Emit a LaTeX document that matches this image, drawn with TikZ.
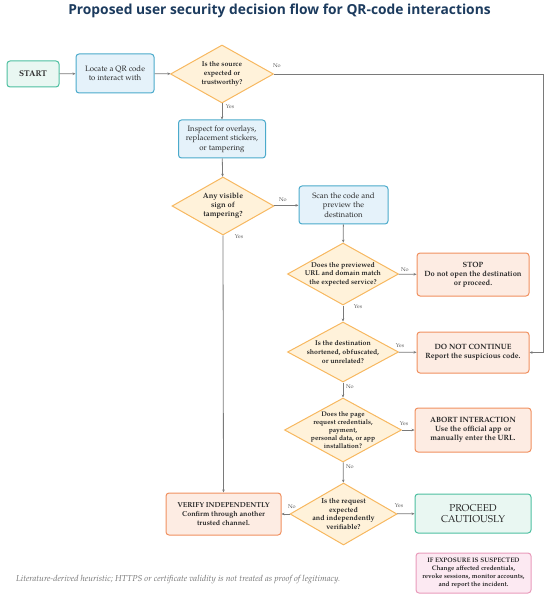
\documentclass[tikz,border=0pt]{standalone}
\usepackage{fontspec}
\setmainfont{TeX Gyre Pagella}
\newfontfamily\titlefont{Open Sans}
\usetikzlibrary{shapes.geometric,arrows.meta}
\definecolor{tealB}{HTML}{4DBFA0}\definecolor{tealF}{HTML}{E9F7F2}
\definecolor{blueB}{HTML}{4BAACB}\definecolor{blueF}{HTML}{E5F2FA}
\definecolor{orgB}{HTML}{F7B860}\definecolor{orgF}{HTML}{FFF2DA}
\definecolor{redB}{HTML}{F0905F}\definecolor{redF}{HTML}{FDECE3}
\definecolor{pinkB}{HTML}{E99BBB}\definecolor{pinkF}{HTML}{FCE9F2}
\definecolor{lineC}{HTML}{7A7A7A}
\definecolor{titleC}{HTML}{1C3B5E}
\definecolor{txtC}{HTML}{2A2A2A}
\tikzset{
  box/.style={draw, rounded corners=3pt, line width=1pt, align=center, inner sep=0pt, text=txtC, font=\fontsize{7.8}{9.3}\selectfont},
  tealbox/.style={box, draw=tealB, fill=tealF},
  bluebox/.style={box, draw=blueB, fill=blueF},
  redbox/.style={box, draw=redB, fill=redF, font=\fontsize{7.6}{9}\selectfont\bfseries},
  pinkbox/.style={box, draw=pinkB, fill=pinkF, font=\fontsize{6.5}{7.9}\selectfont\bfseries},
  dia/.style={draw=orgB, fill=orgF, diamond, line width=1pt, inner sep=0pt, aspect=1.8},
  dtxt/.style={align=center, inner sep=0pt, text=txtC, font=\fontsize{7}{8.6}\selectfont\bfseries},
  lbl/.style={inner sep=0pt, text=black!65, font=\fontsize{5.6}{6}\selectfont},
  arr/.style={draw=lineC, line width=0.8pt, -{Stealth[length=3pt,width=2.6pt]}},
}
\begin{document}
\begin{tikzpicture}[x=1pt,y=-1pt]
\useasboundingbox (0,0) rectangle (550,601);
\node[anchor=base, text=titleC, font=\titlefont\fontsize{13.8}{16}\selectfont\bfseries] (title) at (279.5,15) {Proposed user security decision flow for QR-code interactions};

\node[tealbox, minimum width=52pt, minimum height=26pt, font=\fontsize{8.3}{9}\selectfont\bfseries] (start) at (33,74) {START};
\node[bluebox, minimum width=78pt, minimum height=39pt] (locate) at (115,73.5) {Locate a QR code\\to interact with};
\node[dia, minimum width=103pt, minimum height=58pt] (d1) at (222,74) {};
\node[dtxt] (d1t) at (d1) {Is the source\\expected or\\trustworthy?};
\node[bluebox, minimum width=87pt, minimum height=38pt] (inspect) at (222,139) {Inspect for overlays,\\replacement stickers,\\or tampering};
\node[dia, minimum width=102pt, minimum height=58pt] (d2) at (223,206) {};
\node[dtxt, font=\fontsize{7.6}{9.2}\selectfont\bfseries] (d2t) at (d2) {Any visible\\sign of\\tampering?};
\node[bluebox, minimum width=89pt, minimum height=38pt] (scan) at (343.5,205) {Scan the code and\\preview the\\destination};
\node[dia, minimum width=111pt, minimum height=62pt] (d3) at (343,274) {};
\node[dtxt] (d3t) at (d3) {Does the previewed\\URL and domain match\\the expected service?};
\node[redbox, minimum width=112pt, minimum height=43pt] (stop) at (473,274.5) {STOP\\Do not open the destination\\or proceed.};
\node[dia, minimum width=111pt, minimum height=60pt] (d4) at (343,352) {};
\node[dtxt] (d4t) at (d4) {Is the destination\\shortened, obfuscated,\\or unrelated?};
\node[redbox, minimum width=112pt, minimum height=41pt] (dnc) at (473,352.5) {DO NOT CONTINUE\\Report the suspicious code.};
\node[dia, minimum width=117pt, minimum height=64pt] (d5) at (343,430) {};
\node[dtxt, font=\fontsize{6.7}{8}\selectfont\bfseries] (d5t) at (d5) {Does the page\\request credentials,\\payment,\\personal data, or app\\installation?};
\node[redbox, minimum width=116pt, minimum height=44pt] (abort) at (473,430) {ABORT INTERACTION\\Use the official app or\\manually enter the URL.};
\node[dia, minimum width=107pt, minimum height=62pt] (d6) at (343.5,514) {};
\node[dtxt, font=\fontsize{7.2}{8.6}\selectfont\bfseries] (d6t) at (d6) {Is the request\\expected\\and independently\\verifiable?};
\node[redbox, minimum width=115pt, minimum height=42pt, font=\fontsize{7.2}{8.6}\selectfont\bfseries] (verify) at (223.5,514) {VERIFY INDEPENDENTLY\\Confirm through another\\trusted channel.};
\node[tealbox, minimum width=116pt, minimum height=39pt, font=\fontsize{10}{10.8}\selectfont] (proceed) at (473,513.5) {PROCEED\\CAUTIOUSLY};
\node[pinkbox, minimum width=115pt, minimum height=40pt] (expo) at (473.5,573) {IF EXPOSURE IS SUSPECTED\\Change affected credentials,\\revoke sessions, monitor accounts,\\and report the incident.};
\node[anchor=base west, inner sep=0pt, text=black!55, font=\fontsize{8.6}{9}\selectfont\itshape] (foot) at (16,581) {Literature-derived heuristic; HTTPS or certificate validity is not treated as proof of legitimacy.};

\coordinate (rc) at (543,74);
\draw[arr] (start) -- (locate);
\draw[arr] (locate) -- (d1);
\draw[arr] (d1.east) -- (rc) |- (dnc.east);
\draw[arr] (d1) -- (inspect);
\draw[arr] (inspect) -- (d2);
\draw[arr] (d2) -- (scan);
\draw[arr] (d2.south) -- (verify.north);
\draw[arr] (scan) -- (d3);
\draw[arr] (d3) -- (stop);
\draw[arr] (d3) -- (d4);
\draw[arr] (d4) -- (dnc);
\draw[arr] (d4) -- (d5);
\draw[arr] (d5) -- (abort);
\draw[arr] (d5) -- (d6);
\draw[arr] (d6) -- (verify);
\draw[arr] (d6) -- (proceed);

\node[lbl] (l1) at (277,66) {No};
\node[lbl] (l2) at (230,107) {Yes};
\node[lbl] (l3) at (283,200) {No};
\node[lbl] (l4) at (239,237) {Yes};
\node[lbl] (l5) at (405,270) {No};
\node[lbl] (l6) at (358,307) {Yes};
\node[lbl] (l7) at (400,346) {Yes};
\node[lbl] (l8) at (350,387) {No};
\node[lbl] (l9) at (404,424) {Yes};
\node[lbl] (l10) at (350,467) {No};
\node[lbl] (l11) at (292,507) {No};
\node[lbl] (l12) at (399,506) {Yes};
\end{tikzpicture}
\end{document}
